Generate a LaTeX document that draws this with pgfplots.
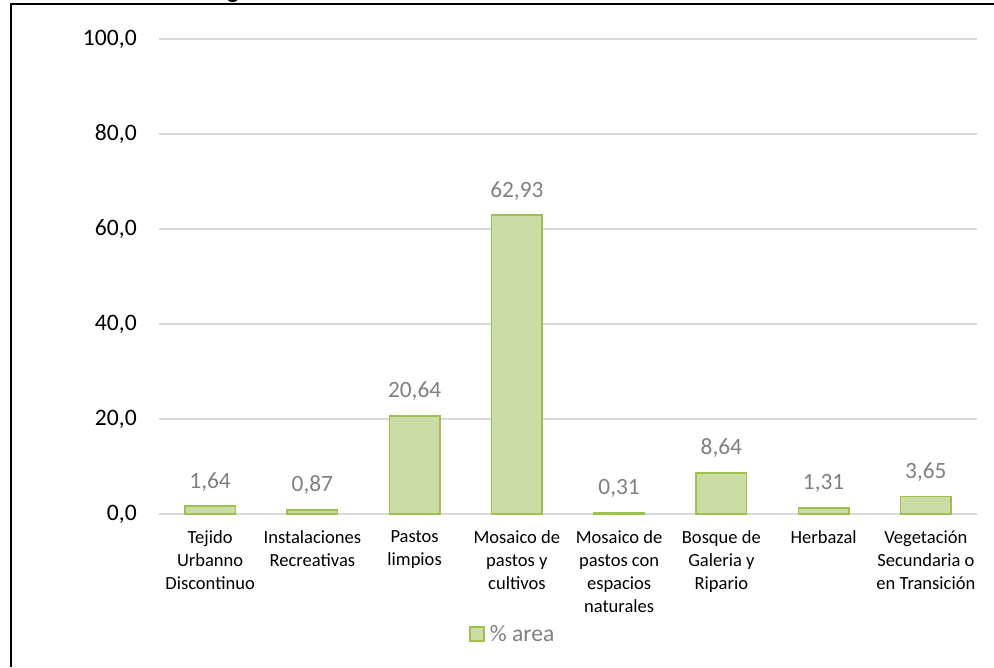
\documentclass[border=0pt]{standalone}
\usepackage{pgfplots}
\pgfplotsset{compat=1.18}
\usepackage{fontspec}
\setmainfont{Carlito}
\definecolor{barfill}{HTML}{CBDCA6}
\definecolor{baredge}{HTML}{9DC04F}
\definecolor{gridc}{HTML}{D9D9D9}
\definecolor{lblgray}{HTML}{808080}
\begin{document}
\begin{tikzpicture}
\useasboundingbox (0pt,0pt) rectangle (745.5pt,500.25pt);
\begin{axis}[
  at={(119.25pt,114.75pt)}, anchor=south west,
  scale only axis, width=613.5pt, height=356.25pt,
  xmin=-0.5, xmax=7.5, ymin=0, ymax=100,
  axis line style={draw=none},
  ymajorgrids, grid style={gridc, line width=1.1pt},
  major tick length=0pt,
  xtick={0,...,7},
  xticklabels={Tejido\\Urbanno\\Discontinuo, Instalaciones\\Recreativas, Pastos\\limpios, Mosaico de\\pastos y\\cultivos, Mosaico de\\pastos con\\espacios\\naturales, Bosque de\\Galeria y\\Ripario, Herbazal, Vegetación\\Secundaria o\\en Transición},
  xticklabel style={align=center, anchor=north, inner sep=0pt, yshift=-12pt, font=\fontsize{13.9}{17.4}\selectfont},
  ytick={0,20,...,100},
  yticklabel style={anchor=east, inner sep=0pt, xshift=-16.5pt, font=\fontsize{17.7}{21}\selectfont},
  yticklabel={\pgfmathprintnumber[fixed,fixed zerofill,precision=1,use comma,assume math mode=true]{\tick}},
  legend style={at={(0.4328,-0.2526)}, anchor=center, draw=none, fill=none, font=\fontsize{17.7}{21}\selectfont, text=lblgray, inner sep=0pt},
  legend image code/.code={\draw[#1] (0pt,-5.25pt) rectangle (10.5pt,5.25pt);},
]
\addplot[ybar, bar width=38pt, bar shift=0pt, fill=barfill, draw=baredge, line width=1.1pt,
  nodes near coords={\pgfmathprintnumber[fixed,fixed zerofill,precision=2,use comma,assume math mode=true]{\pgfplotspointmeta}},
  nodes near coords style={font=\fontsize{17.5}{21}\selectfont, text=lblgray, anchor=base, inner sep=0pt, yshift=13.5pt}]
  coordinates {(0,1.64) (1,0.87) (2,20.64) (3,62.93) (4,0.31) (5,8.64) (6,1.31) (7,3.65)};
\addlegendentry{\hspace{2pt}\% area}
\end{axis}
\draw[line width=1.5pt] (8.25pt,0pt) -- (8.25pt,497.25pt) -- (745.5pt,497.25pt);
\node[font=\bfseries\fontsize{18}{20}\selectfont, anchor=base west, inner sep=0pt] at (170.25pt,501pt) {g};
\end{tikzpicture}
\end{document}
